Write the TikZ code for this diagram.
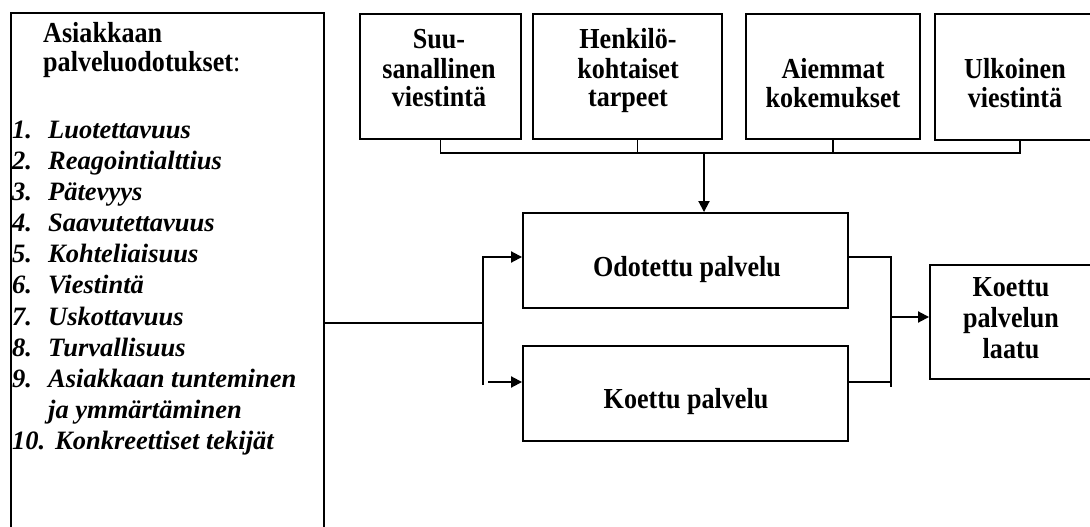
\documentclass[tikz,border=0pt]{standalone}
\usepackage{fontspec}
\setmainfont{Liberation Serif}
\newfontfamily\boxfont{Liberation Serif}[FakeStretch=0.9]
\usetikzlibrary{arrows.meta}
\tikzset{
  box/.style={draw, line width=1.9pt, rectangle, inner sep=0pt},
  txt/.style={inner sep=0pt, font=\fontsize{29}{29}\selectfont\boxfont\bfseries},
  listtxt/.style={inner sep=0pt, font=\fontsize{26.5}{31.2}\selectfont\bfseries\itshape},
  link/.style={line width=1.9pt},
  arr/.style={line width=1.9pt, -{Triangle[length=11pt,width=11pt]}}
}
\begin{document}
\begin{tikzpicture}[x=1pt, y=-1pt]
\useasboundingbox (0,0) rectangle (1090,527);

% boxes
\node[box, minimum width=313pt, minimum height=527pt] (L) at (167.5,276.5) {};
\node[box, minimum width=161pt, minimum height=125pt] (B1) at (440.5,76.5) {};
\node[box, minimum width=189pt, minimum height=125pt] (B2) at (627.5,76.5) {};
\node[box, minimum width=174pt, minimum height=125pt] (B3) at (833,76.5) {};
\node[box, minimum width=170pt, minimum height=126pt] (B4) at (1020,77) {};
\node[box, minimum width=325pt, minimum height=95pt] (O) at (685.5,260.5) {};
\node[box, minimum width=325pt, minimum height=95pt] (K) at (685.5,393.5) {};
\node[box, minimum width=180pt, minimum height=114pt] (Q) at (1020,322) {};

% texts
\node[txt, anchor=base west] (Lt) at (43,43)
  {\begin{tabular}[t]{@{}l@{}}Asiakkaan\\ palveluodotukset{\mdseries :}\end{tabular}};
\node[listtxt, anchor=base west] (Ll) at (12,138)
  {\begin{tabular}[t]{@{}l@{}}
   \makebox[36pt][l]{1.}Luotettavuus\\
   \makebox[36pt][l]{2.}Reagointialttius\\
   \makebox[36pt][l]{3.}Pätevyys\\
   \makebox[36pt][l]{4.}Saavutettavuus\\
   \makebox[36pt][l]{5.}Kohteliaisuus\\
   \makebox[36pt][l]{6.}Viestintä\\
   \makebox[36pt][l]{7.}Uskottavuus\\
   \makebox[36pt][l]{8.}Turvallisuus\\
   \makebox[36pt][l]{9.}Asiakkaan tunteminen\\
   \makebox[36pt][l]{}ja ymmärtäminen\\
   \makebox[43pt][l]{10.}Konkreettiset tekijät
  \end{tabular}};
\node[txt, anchor=base] (B1t) at (439,49)
  {\begin{tabular}[t]{@{}c@{}}Suu-\\ sanallinen\\ viestintä\end{tabular}};
\node[txt, anchor=base] (B2t) at (628,49)
  {\begin{tabular}[t]{@{}c@{}}Henkilö-\\ kohtaiset\\ tarpeet\end{tabular}};
\node[txt, anchor=base] (B3t) at (833,78)
  {\begin{tabular}[t]{@{}c@{}}Aiemmat\\ kokemukset\end{tabular}};
\node[txt, anchor=base] (B4t) at (1015,78)
  {\begin{tabular}[t]{@{}c@{}}Ulkoinen\\ viestintä\end{tabular}};
\node[txt, anchor=base] (Ot) at (687,276) {Odotettu palvelu};
\node[txt, anchor=base] (Kt) at (686,408) {Koettu palvelu};
\node[txt, anchor=base, font=\fontsize{29}{31}\selectfont\boxfont\bfseries] (Qt) at (1011,296)
  {\begin{tabular}[t]{@{}c@{}}Koettu\\ palvelun\\ laatu\end{tabular}};

% collecting line under the top boxes
\coordinate (bus) at (704,153);
\draw[link] (B1.south) -- (B1.south |- bus) -- (B4.south |- bus) -- (B4.south);
\draw[link] ([xshift=10pt]B2.south) -- ([xshift=10pt]B2.south |- bus);
\draw[link] (B3.south) -- (B3.south |- bus);
\draw[arr] (bus) -- (bus |- O.north);

% split from the list box
\coordinate (split) at (483,323);
\coordinate (splitBot) at (483,385);
\draw[link] (L.east |- split) -- (split);
\draw[arr] (splitBot) -- (split) |- ([yshift=3.5pt]O.west);
\coordinate (kin) at (488,382);
\draw[arr] (kin) -- (kin -| K.west);

% join towards the quality box
\coordinate (joinTop) at (891,257);
\coordinate (joinBot) at (891,387);
\coordinate (join) at (891,317);
\draw[link] ([yshift=3.5pt]O.east) -- (joinTop) -- (joinBot);
\draw[link] ([yshift=11.5pt]K.east) -- ([yshift=11.5pt]K.east -| joinBot);
\draw[arr] (join) -- (join -| Q.west);
\end{tikzpicture}
\end{document}
